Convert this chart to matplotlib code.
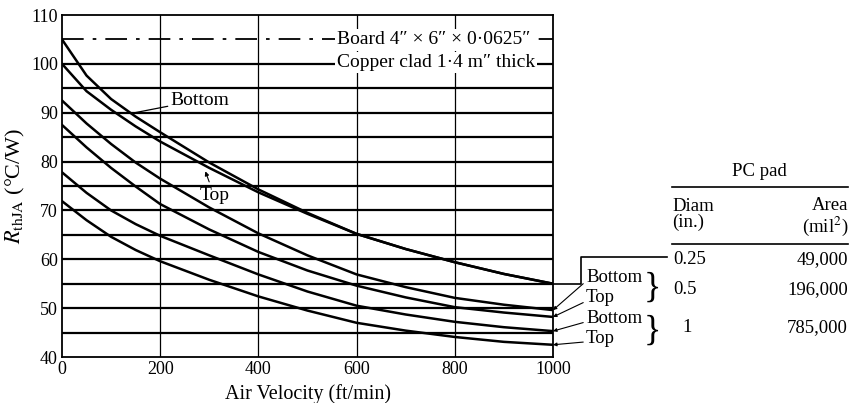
import matplotlib
matplotlib.use("Agg")
import matplotlib.pyplot as plt
import numpy as np

plt.rcParams['font.family'] = ['Liberation Serif', 'DejaVu Serif']
plt.rcParams['mathtext.fontset'] = 'stix'

# ---- data ----
velocity = [0, 50, 100, 150, 200, 300, 400, 500, 600, 700, 800, 900, 1000]
pad025_bottom = [105, 97.6, 92.8, 89.2, 86.0, 79.8, 74.3, 69.5, 65.2, 62.1, 59.4, 57.0, 55.0]
pad025_top = [100, 94.4, 90.6, 87.2, 84.1, 78.7, 73.7, 69.3, 65.2, 62.1, 59.4, 57.0, 55.0]
pad05_bottom = [92.5, 87.8, 83.6, 79.8, 76.5, 70.6, 65.3, 60.8, 56.9, 54.3, 52.1, 50.7, 49.6]
pad05_top = [87.5, 82.9, 78.7, 74.9, 71.3, 66.1, 61.5, 57.7, 54.6, 52.2, 50.2, 49.1, 48.2]
pad1_bottom = [77.8, 73.6, 70.0, 67.2, 64.8, 60.8, 56.9, 53.4, 50.5, 48.7, 47.2, 46.1, 45.3]
pad1_top = [71.9, 68.0, 64.6, 61.9, 59.6, 55.8, 52.4, 49.5, 47.0, 45.4, 44.1, 43.1, 42.5]

x_ticks = [0, 200, 400, 600, 800, 1000]
y_ticks = [40, 50, 60, 70, 80, 90, 100, 110]

table_diam = ["0.25", "0.5", "1"]
table_area = ["49,000", "196,000", "785,000"]

W, H = 851, 403
fig = plt.figure(figsize=(W / 100, H / 100), dpi=100)
ax = fig.add_axes([62 / W, 1 - 357 / H, (553 - 62) / W, (357 - 15) / H])
ax.set_xlim(0, 1000)
ax.set_ylim(40, 110)

# grid
for yv in range(45, 101, 5):
    ax.axhline(yv, color='black', lw=1.6, zorder=1)
ax.axhline(105, color='black', lw=1.3, ls=(0, (12, 5, 2, 5)), zorder=1)
for xv in x_ticks[1:-1]:
    ax.axvline(xv, color='black', lw=0.9, zorder=1)
for s in ax.spines.values():
    s.set_linewidth(1.3)

curves = [pad025_bottom, pad025_top, pad05_bottom, pad05_top, pad1_bottom, pad1_top]
for c in curves:
    ax.plot(velocity, c, color='black', lw=1.8, zorder=3,
            solid_capstyle='round', solid_joinstyle='round')

ax.set_xticks(x_ticks)
ax.set_yticks(y_ticks)
ax.tick_params(length=0, pad=3, labelsize=13)
ax.set_xlabel('Air Velocity (ft/min)', fontsize=14.5, labelpad=4)
ax.set_ylabel(r'$R_{\rm thJA}$ (°C/W)', fontsize=16, labelpad=3)

# in-plot labels
ax.annotate('Bottom', xy=(143, 89.9), xytext=(221, 92.6), fontsize=14,
            va='center', ha='left',
            arrowprops=dict(arrowstyle='-', color='black', lw=0.9, shrinkA=0, shrinkB=0))
ax.annotate('Top', xy=(292, 78.0), xytext=(310, 73.0), fontsize=14,
            va='center', ha='center',
            arrowprops=dict(arrowstyle='-|>', color='black', lw=0.8, mutation_scale=6,
                            shrinkA=2, shrinkB=0))

# legend text in the plot
bb = dict(facecolor='white', edgecolor='none', pad=1.5)
ax.text(560, 104.9, 'Board 4″ × 6″ × 0·0625″', fontsize=14, va='center', ha='left',
        bbox=bb, zorder=4)
ax.text(560, 100.3, 'Copper clad 1·4 m″ thick', fontsize=14, va='center', ha='left',
        bbox=bb, zorder=4)

# right side leader for the 0.25 pad
x_leader = (581 - 62) / 0.491
x_leader_end = (667 - 62) / 0.491
y_up = 60.5
ax.plot([1000, x_leader, x_leader, x_leader_end],
        [pad025_bottom[-1], pad025_bottom[-1], y_up, y_up],
        color='black', lw=1.2, clip_on=False, zorder=3)

# bottom/top labels for 0.5 and 1 pads
lab_x = (586 - 62) / 0.491
label_specs = [("Bottom", 56.2, pad05_bottom[-1]),
               ("Top", 52.1, pad05_top[-1]),
               ("Bottom", 47.9, pad1_bottom[-1]),
               ("Top", 43.8, pad1_top[-1])]
for txt, ly, cy in label_specs:
    ax.annotate(txt, xy=(1000, cy), xytext=(lab_x, ly), fontsize=13.5,
                va='center', ha='left', annotation_clip=False,
                arrowprops=dict(arrowstyle='-|>', color='black', lw=0.8,
                                mutation_scale=5, shrinkA=0, shrinkB=0,
                                relpos=(0, 0.3)))

def px(x, y):
    return x / W, 1 - y / H

fig.text(*px(644, 288), '}', fontsize=26, va='center', ha='left')
fig.text(*px(644, 331), '}', fontsize=26, va='center', ha='left')

# table
fs = 13.5
fig.text(*px(759, 172), 'PC pad', fontsize=fs, ha='center', va='center')
fig.add_artist(plt.Line2D([672 / W, 848 / W], [1 - 187 / H, 1 - 187 / H], color='black', lw=1.2))
fig.text(*px(672, 206), 'Diam', fontsize=fs, ha='left', va='center')
fig.text(*px(672, 222), '(in.)', fontsize=fs, ha='left', va='center')
fig.text(*px(848, 205), 'Area', fontsize=fs, ha='right', va='center')
fig.text(*px(848, 226), r'(mil$^2$)', fontsize=fs, ha='right', va='center')
fig.add_artist(plt.Line2D([672 / W, 848 / W], [1 - 244 / H, 1 - 244 / H], color='black', lw=1.2))
row_y = [260, 290, 328]
row_x = [673, 673, 682]
for d, a, yy, xx in zip(table_diam, table_area, row_y, row_x):
    fig.text(*px(xx, yy), d, fontsize=fs, ha='left', va='center')
    fig.text(*px(848, yy), a, fontsize=fs, ha='right', va='center')

fig.savefig('out.png', dpi=100, facecolor='white')
